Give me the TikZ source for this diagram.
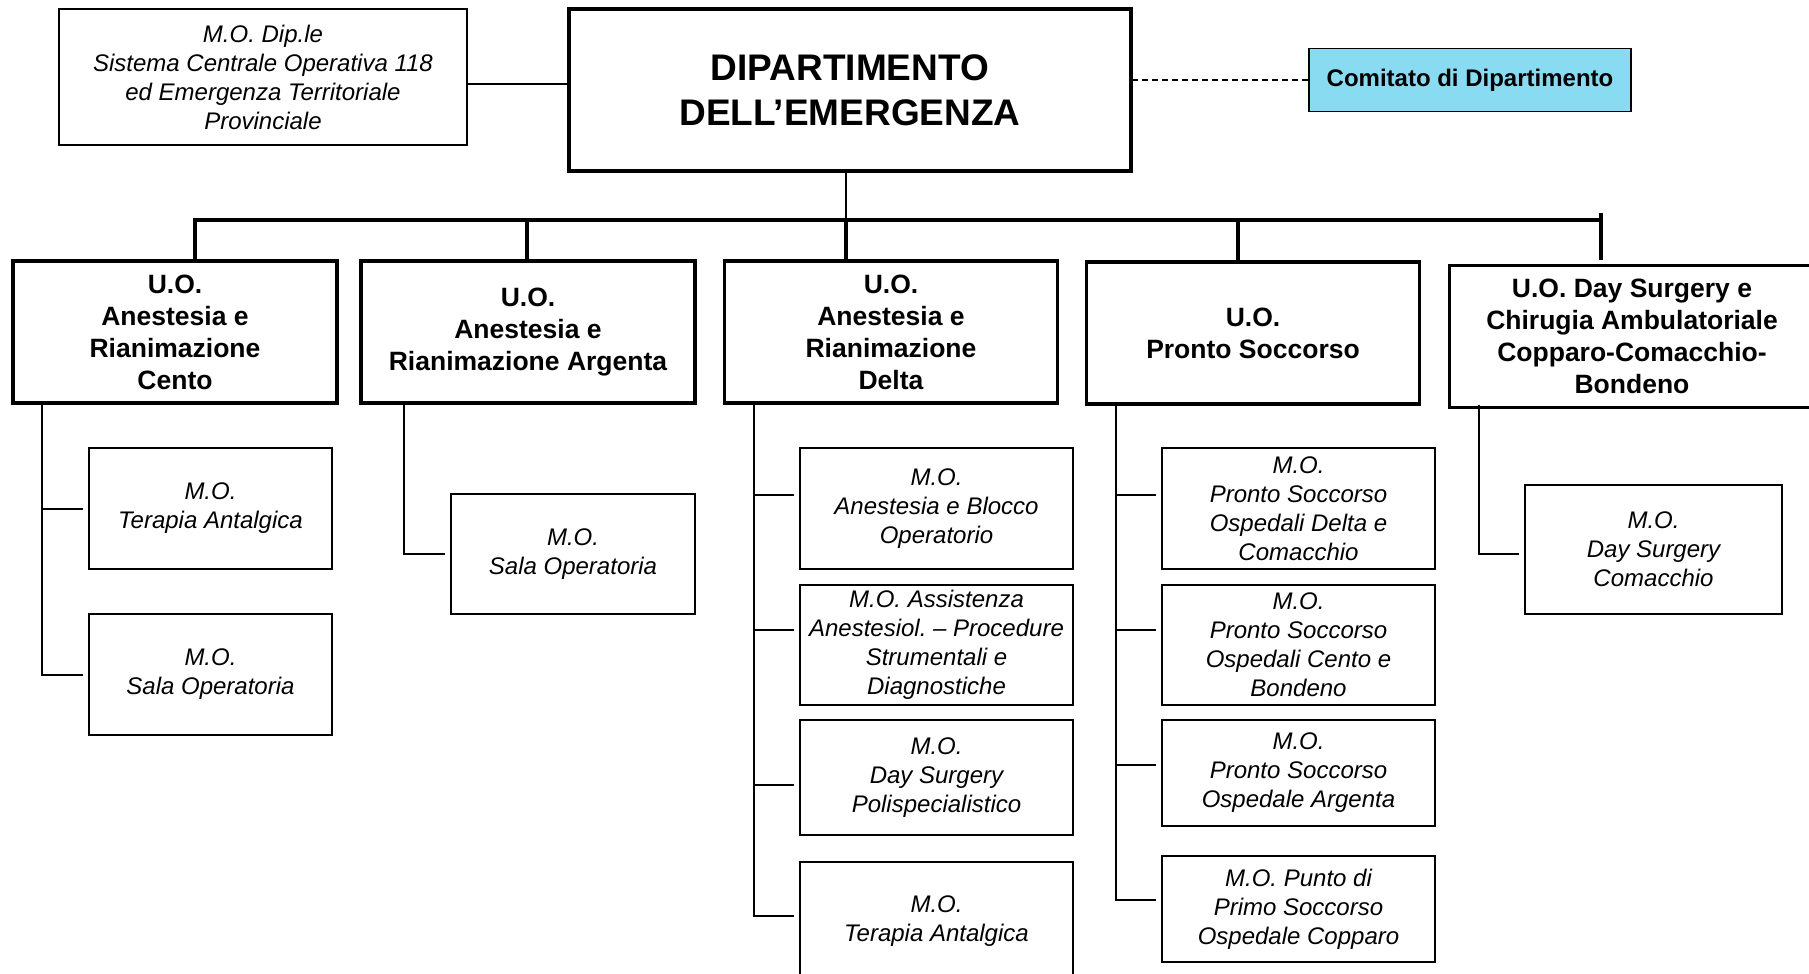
\documentclass[tikz,border=0pt]{standalone}
\usepackage{fontspec}
\setmainfont{Liberation Sans}
\definecolor{comitato}{RGB}{137,219,242}
\frenchspacing

\begin{document}
\begin{tikzpicture}[x=1pt, y=-1pt,
		capo/.style = {draw, line width=4.5pt, inner sep=0pt, align=center,
			font=\fontsize{37}{45}\selectfont\bfseries},
		unita/.style = {draw, line width=3.5pt, inner sep=0pt, align=center,
			minimum height=142pt, font=\fontsize{26.5}{32}\selectfont\bfseries},
		modulo/.style = {draw, line width=2pt, inner sep=0pt, align=center,
			font=\fontsize{24}{29}\selectfont\itshape},
		tronco/.style = {line width=3.5pt},
		gancio/.style = {line width=2pt, shorten >=5pt}
		]
		
		\useasboundingbox (0,0) rectangle (1809,974);
		
		\node[capo, minimum width=562pt, minimum height=162pt] (dip) at (850,90)
		{DIPARTIMENTO\\DELL’EMERGENZA};
		
		\node[modulo, minimum width=408pt, minimum height=136pt] (mod) at (263,77)
		{M.O. Dip.le\\Sistema Centrale Operativa 118\\ed Emergenza Territoriale\\Provinciale};
		
		\node[draw, fill=comitato, line width=1.5pt, inner sep=0pt,
		minimum width=322pt, minimum height=63pt,
		font=\fontsize{24}{29}\selectfont\bfseries] (com) at (1470,80)
		{Comitato di Dipartimento};
		
		\coordinate (lmod) at ([yshift=-7pt]mod.east);
		\draw[line width=2.5pt] (lmod) -- (lmod -| dip.west);
		
		\draw[line width=2pt, dash pattern=on 6pt off 4pt] (com.west) -- (com.west -| dip.east);
		
		% unita' operative
		\node[unita, minimum width=324pt] (uoA) at (175,332)
		{U.O.\\Anestesia e\\Rianimazione\\Cento};
		\node[unita, minimum width=334pt] (uoB) at (528,332)
		{U.O.\\Anestesia e\\Rianimazione Argenta};
		\node[unita, minimum width=333pt] (uoC) at (891,332)
		{U.O.\\Anestesia e\\Rianimazione\\Delta};
		\node[unita, minimum width=333pt] (uoD) at (1253,333)
		{U.O.\\Pronto Soccorso};
		\node[unita, minimum width=365pt] (uoE) at (1632,336.5)
		{U.O. Day Surgery e\\Chirugia Ambulatoriale\\Copparo-Comacchio-\\Bondeno};
		
		\coordinate (b1) at (195,220);
		\coordinate (b2) at (527,220);
		\coordinate (b3) at (846,220);
		\coordinate (b4) at (1238,220);
		\coordinate (b5) at (1601,220);
		
		\draw[line width=2.5pt] (dip.south -| b3) -- (b3);
		\draw[tronco] (b1 |- uoA.north) -- (b1) -- (b5);
		\draw[tronco] ([yshift=7pt]b5) -- (1601,260);
		\draw[tronco] (b2) -- (b2 |- uoB.north);
		\draw[tronco] (b3) -- (b3 |- uoC.north);
		\draw[tronco] (b4) -- (b4 |- uoD.north);
		
		% moduli
		\node[modulo, minimum width=243pt, minimum height=121pt] (mA1) at (210.5,508.5)
		{M.O.\\Terapia Antalgica};
		\node[modulo, minimum width=243pt, minimum height=121pt] (mA2) at (210.5,674.5)
		{M.O.\\Sala Operatoria};
		
		\node[modulo, minimum width=244pt, minimum height=120pt] (mB1) at (573,554)
		{M.O.\\Sala Operatoria};
		
		\node[modulo, minimum width=273pt, minimum height=121pt] (mC1) at (936.5,508.5)
		{M.O.\\Anestesia e Blocco\\Operatorio};
		\node[modulo, minimum width=273pt, minimum height=120pt] (mC2) at (936.5,645)
		{M.O. Assistenza\\Anestesiol. – Procedure\\Strumentali e\\Diagnostiche};
		\node[modulo, minimum width=273pt, minimum height=115pt] (mC3) at (936.5,777.5)
		{M.O.\\Day Surgery\\Polispecialistico};
		\node[modulo, minimum width=273pt, minimum height=118pt] (mC4) at (936.5,921)
		{M.O.\\Terapia Antalgica};
		
		\node[modulo, minimum width=273pt, minimum height=121pt] (mD1) at (1298.5,508.5)
		{M.O.\\Pronto Soccorso\\Ospedali Delta e\\Comacchio};
		\node[modulo, minimum width=273pt, minimum height=120pt] (mD2) at (1298.5,645)
		{M.O.\\Pronto Soccorso\\Ospedali Cento e\\Bondeno};
		\node[modulo, minimum width=273pt, minimum height=106pt] (mD3) at (1298.5,773)
		{M.O.\\Pronto Soccorso\\Ospedale Argenta};
		\node[modulo, minimum width=273pt, minimum height=106pt] (mD4) at (1298.5,909)
		{M.O. Punto di\\Primo Soccorso\\Ospedale Copparo};
		
		\node[modulo, minimum width=257pt, minimum height=129pt] (mE1) at (1653.5,549.5)
		{M.O.\\Day Surgery\\Comacchio};
		
		\coordinate (sA) at ([xshift=31pt]uoA.south west);
		\coordinate (sB) at ([xshift=45pt]uoB.south west);
		\coordinate (sC) at ([xshift=31pt]uoC.south west);
		\coordinate (sD) at ([xshift=31pt]uoD.south west);
		\coordinate (sE) at ([xshift=31pt,yshift=4pt]uoE.south west);
		
		\coordinate (gC1) at ([yshift=14pt]mC1.west);
		\coordinate (gC2) at ([yshift=15pt]mC2.west);
		\coordinate (gC3) at ([yshift=-7pt]mC3.west);
		\coordinate (gC4) at ([yshift=5pt]mC4.west);
		\coordinate (gD1) at ([yshift=14pt]mD1.west);
		\coordinate (gD2) at ([yshift=15pt]mD2.west);
		\coordinate (gD3) at ([yshift=8pt]mD3.west);
		\coordinate (gD4) at ([yshift=9pt]mD4.west);
		\coordinate (gE1) at ([yshift=-4.5pt]mE1.west);
		
		\draw[gancio] (sA) |- (mA2.west);
		\draw[gancio] (sA |- mA1.west) -- (mA1.west);
		
		\draw[gancio] (sB) |- (mB1.west);
		
		\draw[gancio] (sC) |- (gC4);
		\draw[gancio] (sC |- gC1) -- (gC1);
		\draw[gancio] (sC |- gC2) -- (gC2);
		\draw[gancio] (sC |- gC3) -- (gC3);
		
		\draw[gancio] (sD) |- (gD4);
		\draw[gancio] (sD |- gD1) -- (gD1);
		\draw[gancio] (sD |- gD2) -- (gD2);
		\draw[gancio] (sD |- gD3) -- (gD3);
		
		\draw[gancio] (sE) |- (gE1);
		
	\end{tikzpicture}
\end{document}
